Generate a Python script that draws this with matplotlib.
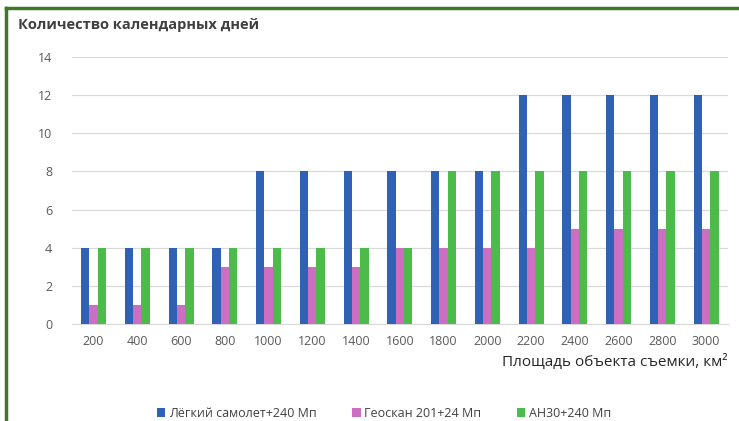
import numpy as np
import matplotlib.pyplot as plt
from matplotlib.lines import Line2D

plt.rcParams['font.family'] = ['Open Sans', 'DejaVu Sans']

# data
areas = ['200', '400', '600', '800', '1000', '1200', '1400', '1600',
         '1800', '2000', '2200', '2400', '2600', '2800', '3000']
plane = [4, 4, 4, 4, 8, 8, 8, 8, 8, 8, 12, 12, 12, 12, 12]
geoscan = [1, 1, 1, 3, 3, 3, 3, 4, 4, 4, 4, 5, 5, 5, 5]
an30 = [4, 4, 4, 4, 4, 4, 4, 4, 8, 8, 8, 8, 8, 8, 8]
series_names = ['Лёгкий самолет+240 Мп', 'Геоскан 201+24 Мп', 'АН30+240 Мп']
colors = ['#2F62B5', '#CC6EC2', '#4DBB4A']

fig = plt.figure(figsize=(7.39, 4.21), dpi=100)
ax = fig.add_axes([0.097, 0.23, 0.888, 0.635])

x = np.arange(len(areas))
w = 0.19
for i, (vals, name, c) in enumerate(zip([plane, geoscan, an30], series_names, colors)):
    ax.bar(x + (i - 1) * w, vals, width=w, color=c, label=name, zorder=3)

ax.set_xlim(-0.5, len(areas) - 0.5)
ax.set_ylim(0, 14)
ax.set_yticks(range(0, 15, 2))
ax.set_xticks(x)
ax.set_xticklabels(areas)
ax.grid(axis='y', color='#D9D9D9', linewidth=0.9, zorder=0)
for s in ['top', 'right', 'left']:
    ax.spines[s].set_visible(False)
ax.spines['bottom'].set_color('#D9D9D9')
ax.tick_params(axis='both', length=0, labelsize=9, colors='#595959', pad=8)
ax.tick_params(axis='y', pad=14)

fig.text(0.024, 0.94, 'Количество календарных дней', fontsize=10.5,
         fontweight='bold', color='#404040', va='center')
fig.text(0.985, 0.14, 'Площадь объекта съемки, км²', fontsize=11,
         color='#262626', ha='right', va='center')

ax.legend(loc='center', bbox_to_anchor=(0.476, -0.335), ncol=3, frameon=False,
          fontsize=9, labelcolor='#404040', handlelength=0.7, handleheight=0.7,
          handletextpad=0.3, columnspacing=2.8)

# green frame lines on top and left
green = '#3D7A28'
fig.add_artist(Line2D([0.008, 1.0], [0.981, 0.981], color=green, linewidth=2.5,
                      transform=fig.transFigure))
fig.add_artist(Line2D([0.008, 0.008], [0.0, 0.981], color=green, linewidth=2.5,
                      transform=fig.transFigure))

fig.savefig('out.png', dpi=100)
